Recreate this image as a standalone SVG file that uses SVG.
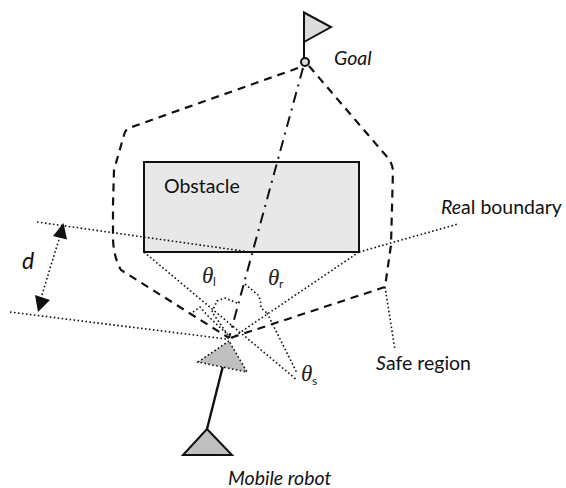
<svg xmlns="http://www.w3.org/2000/svg" width="566" height="488" viewBox="0 0 566 488">
<style>
.t{font-family:Lato,"Liberation Sans",sans-serif;font-size:19.500px;fill:#111}
.i{font-style:italic}
.th{font-family:"Liberation Serif",serif;font-style:italic;font-size:23px;fill:#222}
.sub{font-family:Lato,"Liberation Sans",sans-serif;font-size:12px;fill:#222}
.dot{fill:none;stroke:#111;stroke-width:1.6;stroke-dasharray:1.6 2.4}
.dash{fill:none;stroke:#111;stroke-width:2.2;stroke-dasharray:8 6}
.dd{fill:none;stroke:#111;stroke-width:2;stroke-dasharray:11 6 2 6}
.sol{stroke:#111;stroke-width:2.4;fill:none}
</style>
<g id="obstacle">
<rect x="144" y="162" width="215" height="90" fill="#e8e8e8" stroke="#111" stroke-width="2"/>
<text class="t" x="164" y="193">Obstacle</text>
</g>
<g id="goal">
<path d="M304 60V12.500L331 27L304 42" fill="#dcdcdc" stroke="#111" stroke-width="2"/>
<circle cx="305" cy="62" r="4" fill="#dcdcdc" stroke="#111" stroke-width="2"/>
<text class="t i" x="334" y="65">Goal</text>
</g>
<g id="connectors">
<path class="dd" d="M303 68L229 338"/>
<path class="dash" d="M298 68L129 128Q125 130 124 135L114 170L113 205L113 240Q114 258 121 270L229 338"/>
<path class="dash" d="M309 66L388 158Q392 163 393 170L391 245L385 287L230 338"/>
<path class="dot" d="M37 222L250 252"/>
<path class="dot" d="M359 252L458 224"/>
<path class="dot" d="M10 312L226 339"/>
<path class="dot" d="M144 252L297 380"/>
<path class="dot" d="M359 252L232 338"/>
<path class="dot" d="M267 313L297 373"/>
<path class="dot" d="M245 284L258 295Q261 300 261 308L267 313"/>
<path class="dot" d="M237 303L225 298L217 301L212 312L228 335"/>
<path class="dot" d="M193 312L200 307L207 315L228 335"/>
<path class="dot" d="M385 287L395 350"/>
<path class="dot" d="M60 236L41 298"/>
<path d="M63.500 223L53 236L67 239.500Z" fill="#111"/>
<path d="M35 295L50 300L38 312Z" fill="#111"/>
<path class="sol" d="M222.700 367L207 429"/>
</g>
<g id="sensor">
<path d="M229 341L198 362L247 372Z" fill="#bfbfbf"/>
<path class="dot" d="M229 341L198 362L247 372Z"/>
</g>
<g id="robot">
<path d="M207 429L183 455H232Z" fill="#bfbfbf" stroke="#111" stroke-width="2"/>
<text class="t i" x="228" y="485">Mobile robot</text>
</g>
<g id="labels">
<text class="t" x="441" y="214"><tspan class="i">Re</tspan>al boundary</text>
<text class="t" x="22" y="269" style="font-size:23px;font-style:italic">d</text>
<text class="t" x="376" y="370"><tspan class="i">S</tspan>afe region</text>
<text class="th" x="202" y="283">θ</text><text class="sub" x="213" y="286">l</text>
<text class="th" x="268" y="285">θ</text><text class="sub" x="279" y="288">r</text>
<text class="th" x="301" y="381">θ</text><text class="sub" x="312" y="385">s</text>
</g>
</svg>
